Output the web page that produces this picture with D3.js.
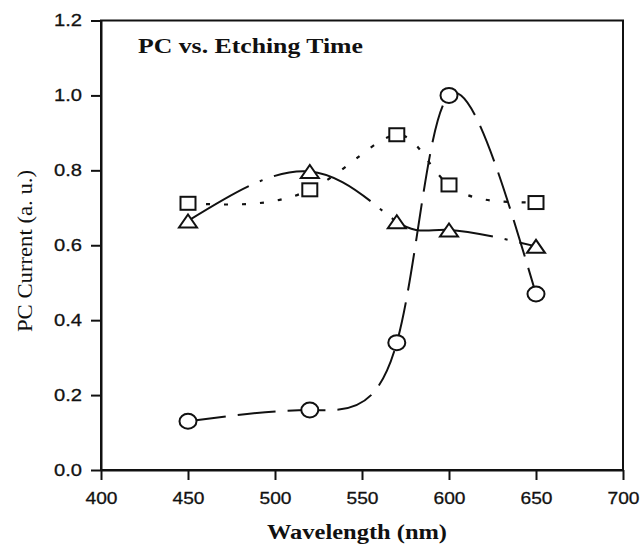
<!DOCTYPE html>
<html><head><meta charset="utf-8">
<script src="https://cdn.jsdelivr.net/npm/d3@7/dist/d3.min.js"></script>
<style>body{margin:0;background:#fff}svg{display:block}</style>
</head><body>
<svg id="c" width="641" height="546"></svg>
<script>
const wavelengths = [450, 520, 570, 600, 650];
const circleSeries = [0.13, 0.16, 0.34, 1.0, 0.47];
const squareSeries = [0.712, 0.748, 0.895, 0.761, 0.714];
const triangleSeries = [0.665, 0.797, 0.663, 0.641, 0.597];
const xTicks = [400, 450, 500, 550, 600, 650, 700];
const yTicks = [0.0, 0.2, 0.4, 0.6, 0.8, 1.0, 1.2];
const titleText = "PC vs. Etching Time";
const xLabel = "Wavelength (nm)";
const yLabel = "PC Current (a. u.)";

const svg = d3.select("#c");
const ink = "#111";
const x = d3.scaleLinear().domain([400, 700]).range([101, 623]);
const y = d3.scaleLinear().domain([0, 1.2]).range([470, 20.5]);

// frame
svg.append("rect").attr("x", x(400)).attr("y", y(1.2))
  .attr("width", x(700) - x(400)).attr("height", y(0) - y(1.2))
  .attr("fill", "none").attr("stroke", ink).attr("stroke-width", 2);

const gy = svg.append("g").attr("transform", `translate(${x(400)},0)`)
  .call(d3.axisLeft(y).tickValues(yTicks).tickSize(10).tickSizeOuter(0).tickPadding(9).tickFormat(d3.format(".1f")));
const gx = svg.append("g").attr("transform", `translate(0,${y(0)})`)
  .call(d3.axisBottom(x).tickValues(xTicks).tickSize(10).tickSizeOuter(0).tickPadding(12).tickFormat(d3.format("d")));
[gy, gx].forEach(g => {
  g.select(".domain").attr("stroke", ink).attr("stroke-width", 2);
  g.selectAll(".tick line").attr("stroke", ink).attr("stroke-width", 2);
  g.selectAll(".tick text").attr("fill", ink).attr("stroke", ink).attr("stroke-width", 0.3)
    .style("font-family", "'Liberation Sans', Arial, sans-serif").style("font-size", "17px");
});
gy.selectAll(".tick text").attr("textLength", 28).attr("lengthAdjust", "spacingAndGlyphs");
gx.selectAll(".tick text").attr("textLength", 32).attr("lengthAdjust", "spacingAndGlyphs");

// titles
svg.append("text").attr("x", 138).attr("y", 53).text(titleText)
  .style("font-family", "'Liberation Serif', 'Times New Roman', serif").style("font-weight", "bold")
  .style("font-size", "22px").attr("fill", ink).attr("textLength", 225).attr("lengthAdjust", "spacingAndGlyphs");
svg.append("text").attr("x", 357).attr("y", 539).attr("text-anchor", "middle").text(xLabel)
  .style("font-family", "'Liberation Serif', 'Times New Roman', serif").style("font-weight", "bold")
  .style("font-size", "20px").attr("fill", ink).attr("textLength", 180).attr("lengthAdjust", "spacingAndGlyphs");
svg.append("text").attr("transform", "translate(32,251) rotate(-90)").attr("text-anchor", "middle").text(yLabel)
  .style("font-family", "'Liberation Serif', 'Times New Roman', serif")
  .style("font-size", "20px").attr("fill", ink).attr("textLength", 162).attr("lengthAdjust", "spacingAndGlyphs");

const line = d3.line().x(d => x(d[0])).y(d => y(d[1])).curve(d3.curveNatural);
const pts = s => wavelengths.map((w, i) => [w, s[i]]);

svg.append("path").datum(pts(triangleSeries)).attr("d", line).attr("fill", "none")
  .attr("stroke", ink).attr("stroke-width", 2).attr("stroke-dasharray", "105,12,3,12").attr("stroke-dashoffset", 35);
svg.append("path").datum(pts(squareSeries)).attr("d", line).attr("fill", "none")
  .attr("stroke", ink).attr("stroke-width", 2.2).attr("stroke-dasharray", "4,14");
svg.append("path").datum(pts(circleSeries)).attr("d", line).attr("fill", "none")
  .attr("stroke", ink).attr("stroke-width", 2).attr("stroke-dasharray", "38,12");

svg.selectAll(".tri").data(pts(triangleSeries)).join("path")
  .attr("d", d => `M${x(d[0]) - 9},${y(d[1]) + 6.5}L${x(d[0]) + 9},${y(d[1]) + 6.5}L${x(d[0])},${y(d[1]) - 6.5}Z`)
  .attr("fill", "#fff").attr("stroke", ink).attr("stroke-width", 2);
svg.selectAll(".sq").data(pts(squareSeries)).join("rect")
  .attr("x", d => x(d[0]) - 7.5).attr("y", d => y(d[1]) - 6.5).attr("width", 15).attr("height", 13)
  .attr("fill", "#fff").attr("stroke", ink).attr("stroke-width", 2);
svg.selectAll(".ci").data(pts(circleSeries)).join("ellipse")
  .attr("cx", d => x(d[0])).attr("cy", d => y(d[1])).attr("rx", 8.5).attr("ry", 7.5)
  .attr("fill", "#fff").attr("stroke", ink).attr("stroke-width", 2);
</script>
</body></html>
